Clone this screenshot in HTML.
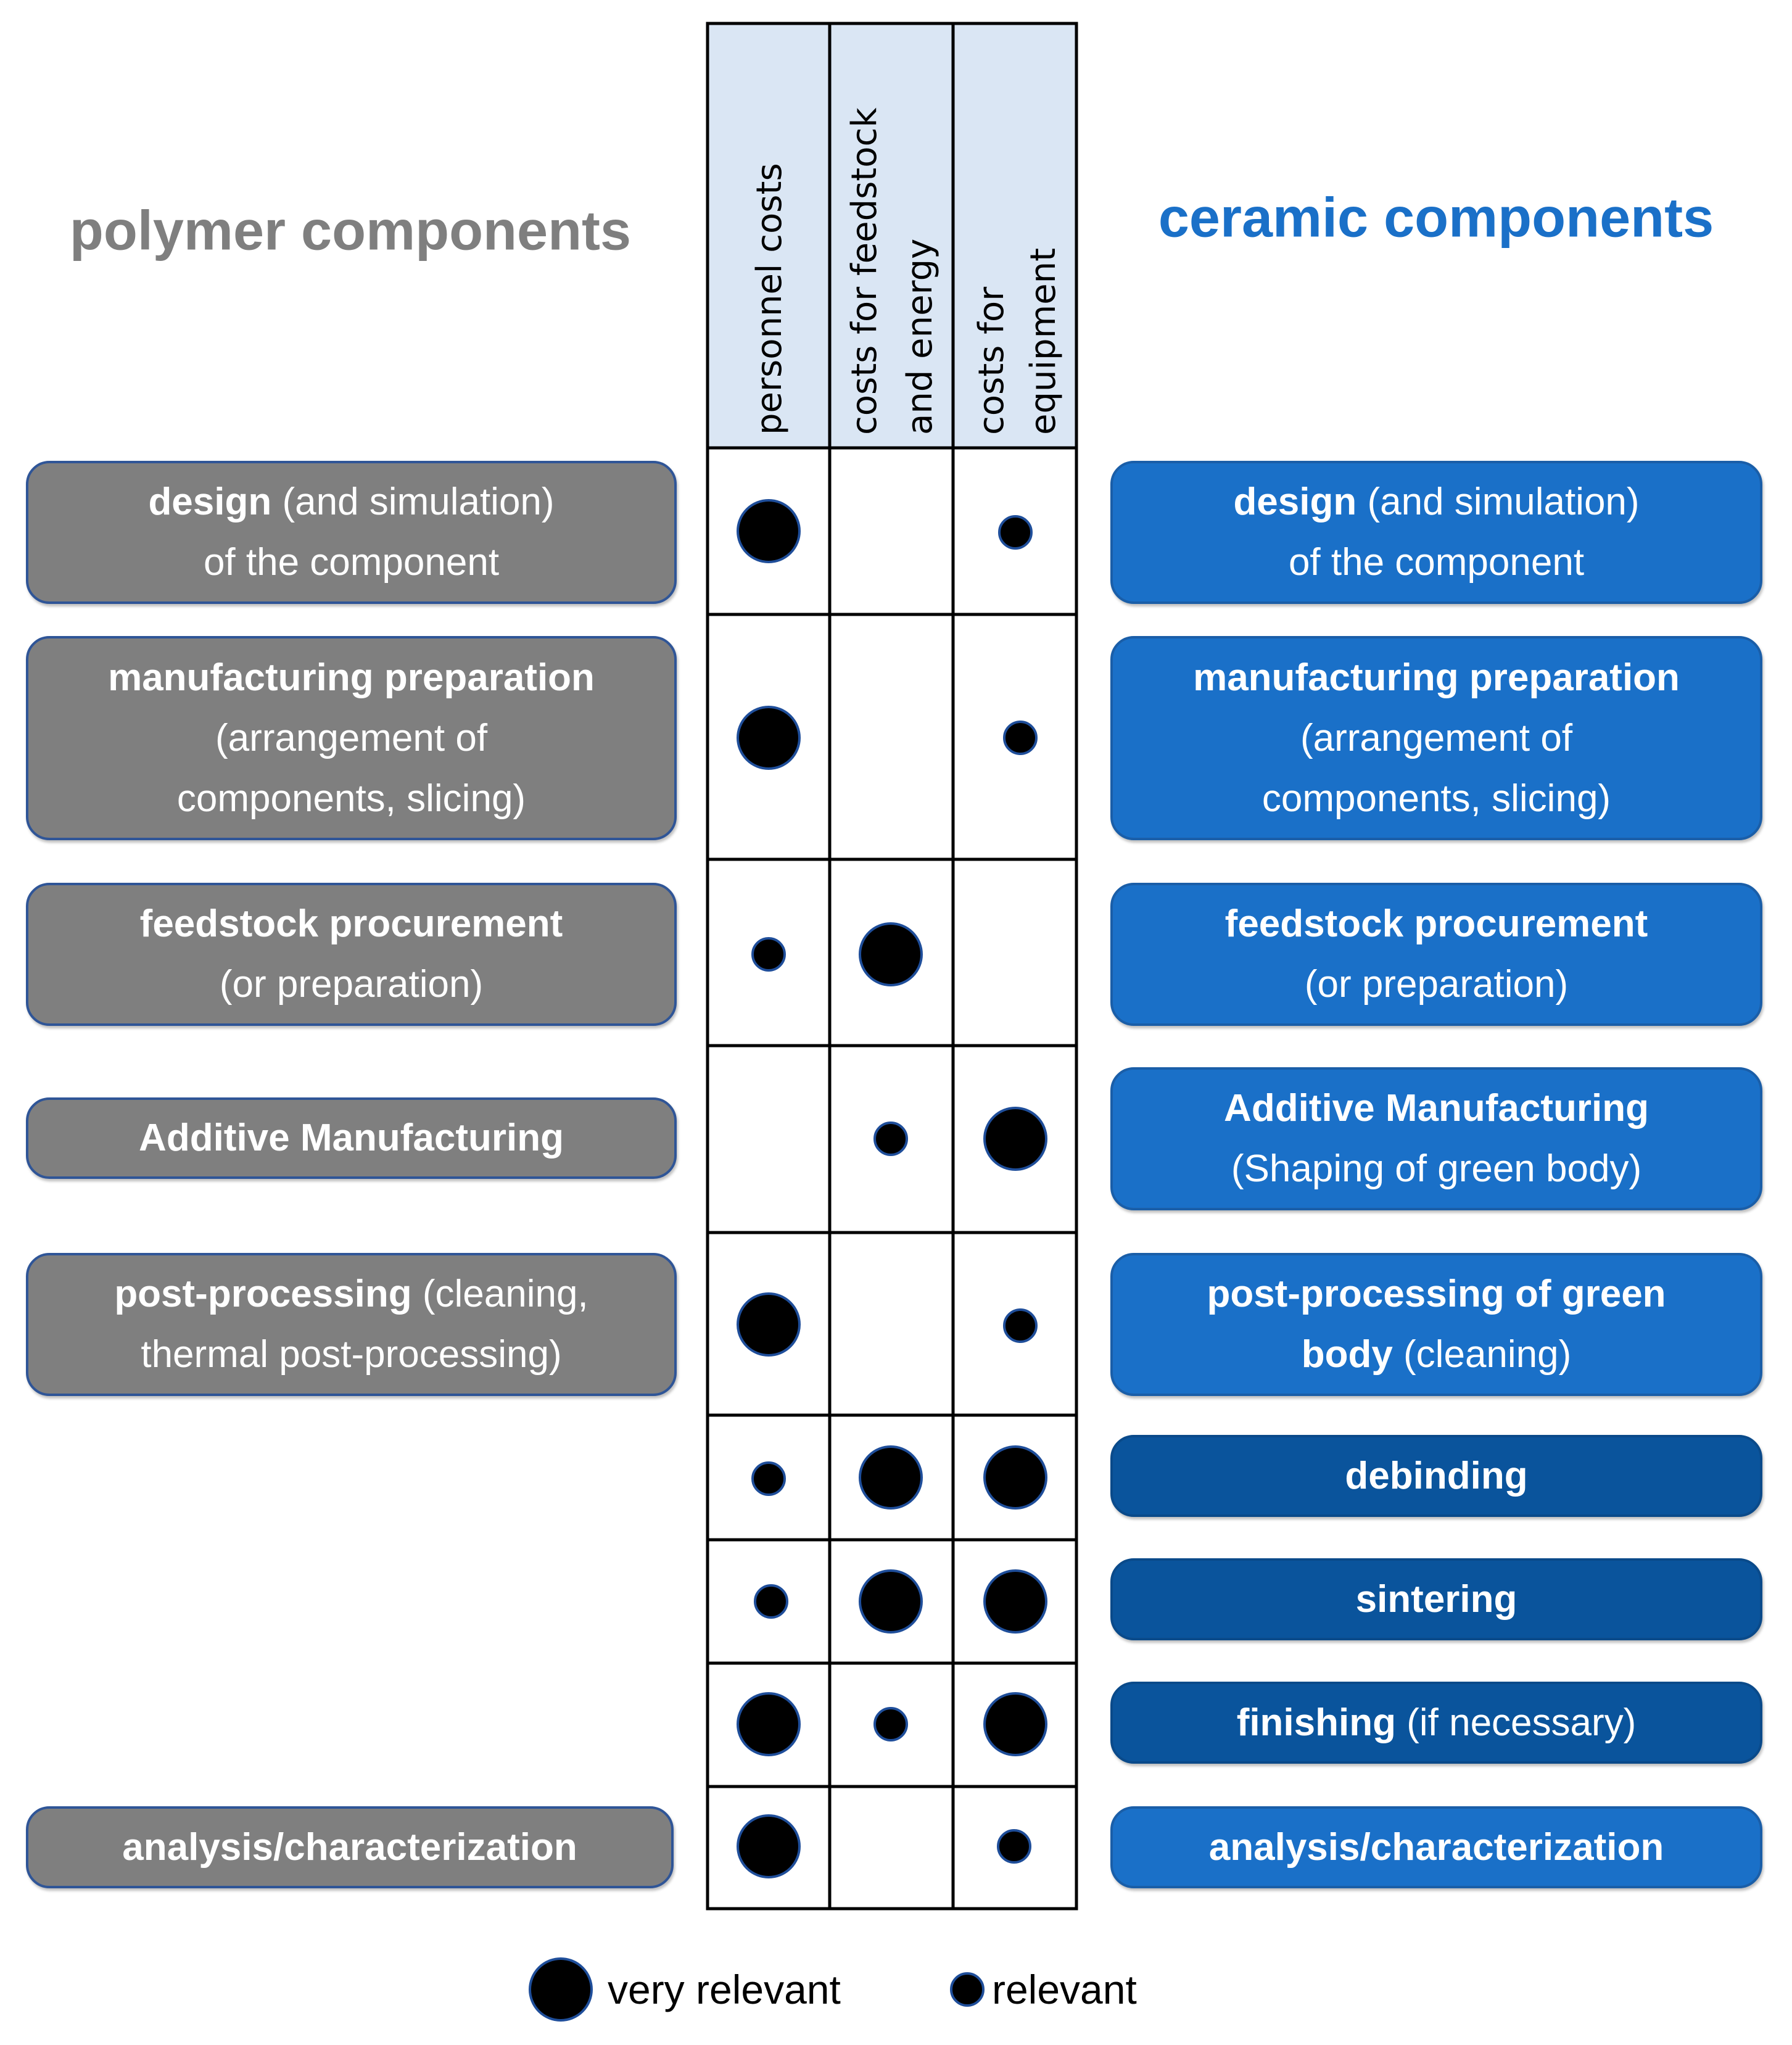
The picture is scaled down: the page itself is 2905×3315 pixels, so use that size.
<!DOCTYPE html>
<html><head><meta charset="utf-8"><style>
body{margin:0;width:2905px;height:3315px;background:#fff;position:relative;overflow:hidden;font-family:"Liberation Sans",sans-serif}
.b{position:absolute;box-sizing:border-box;border:4px solid #2f5597;border-radius:38px;color:#fff;display:flex;align-items:center;justify-content:center;text-align:center;font-size:62px;line-height:98px;box-shadow:2px 4px 4px rgba(0,0,0,0.25)}
.g{background:#7f7f7f;left:42px;width:1055px}
.c{background:#1a70c8;left:1800px;width:1057px;border-color:#1a5ea8}
.d{background:#0a549c;left:1800px;width:1057px;border-color:#0a4a8a}
.t{position:absolute;font-weight:bold;font-size:90px;transform:translate(-50%,-50%);white-space:nowrap}
</style></head><body>
<div class="t" style="left:568px;top:375px;color:#7f7f7f">polymer components</div>
<div class="t" style="left:2328px;top:354px;color:#1a70c8">ceramic components</div>

<div class="b g" style="top:747px;height:232px"><div><b>design</b> (and simulation)<br>of the component</div></div>
<div class="b g" style="top:1031px;height:331px"><div><b>manufacturing preparation</b><br>(arrangement of<br>components, slicing)</div></div>
<div class="b g" style="top:1431px;height:232px"><div><b>feedstock procurement</b><br>(or preparation)</div></div>
<div class="b g" style="top:1779px;height:132px"><div><b>Additive Manufacturing</b></div></div>
<div class="b g" style="top:2031px;height:232px"><div><b>post-processing</b> (cleaning,<br>thermal post-processing)</div></div>
<div class="b g" style="top:2928px;height:133px;width:1050px"><div><b>analysis/characterization</b></div></div>

<div class="b c" style="top:747px;height:232px"><div><b>design</b> (and simulation)<br>of the component</div></div>
<div class="b c" style="top:1031px;height:331px"><div><b>manufacturing preparation</b><br>(arrangement of<br>components, slicing)</div></div>
<div class="b c" style="top:1431px;height:232px"><div><b>feedstock procurement</b><br>(or preparation)</div></div>
<div class="b c" style="top:1730px;height:232px"><div><b>Additive Manufacturing</b><br>(Shaping of green body)</div></div>
<div class="b c" style="top:2031px;height:232px"><div><b>post-processing of green<br>body</b> (cleaning)</div></div>
<div class="b d" style="top:2326px;height:133px"><div><b>debinding</b></div></div>
<div class="b d" style="top:2526px;height:133px"><div><b>sintering</b></div></div>
<div class="b d" style="top:2726px;height:133px"><div><b>finishing</b> (if necessary)</div></div>
<div class="b c" style="top:2928px;height:133px"><div><b>analysis/characterization</b></div></div>

<svg width="2905" height="3315" style="position:absolute;left:0;top:0">
<rect x="1147" y="38" width="598" height="688" fill="#dae6f4"/>
<g stroke="#000" stroke-width="5" fill="none">
<rect x="1147" y="38" width="598" height="3056"/>
<line x1="1345" y1="38" x2="1345" y2="3094"/><line x1="1545" y1="38" x2="1545" y2="3094"/>
<line x1="1147" y1="726" x2="1745" y2="726"/><line x1="1147" y1="996" x2="1745" y2="996"/>
<line x1="1147" y1="1393" x2="1745" y2="1393"/><line x1="1147" y1="1695" x2="1745" y2="1695"/>
<line x1="1147" y1="1998" x2="1745" y2="1998"/><line x1="1147" y1="2294" x2="1745" y2="2294"/>
<line x1="1147" y1="2496" x2="1745" y2="2496"/><line x1="1147" y1="2696" x2="1745" y2="2696"/>
<line x1="1147" y1="2896" x2="1745" y2="2896"/>
</g>
<g font-family="DejaVu Sans, sans-serif" font-size="56" fill="#000">
<text transform="translate(1266,705) rotate(-90)">personnel costs</text>
<text transform="translate(1420,705) rotate(-90)">costs for feedstock</text>
<text transform="translate(1510,705) rotate(-90)">and energy</text>
<text transform="translate(1626,705) rotate(-90)">costs for</text>
<text transform="translate(1710,705) rotate(-90)">equipment</text>
</g>
<g fill="#000" stroke="#1f4e9a" stroke-width="4">
<circle cx="1246" cy="861" r="50"/><circle cx="1646" cy="863" r="26"/>
<circle cx="1246" cy="1196" r="50"/><circle cx="1654" cy="1196" r="26"/>
<circle cx="1246" cy="1547" r="26"/><circle cx="1444" cy="1547" r="50"/>
<circle cx="1444" cy="1846" r="26"/><circle cx="1646" cy="1846" r="50"/>
<circle cx="1246" cy="2147" r="50"/><circle cx="1654" cy="2149" r="26"/>
<circle cx="1246" cy="2397" r="26"/><circle cx="1444" cy="2395" r="50"/><circle cx="1646" cy="2395" r="50"/>
<circle cx="1250" cy="2596" r="26"/><circle cx="1444" cy="2596" r="50"/><circle cx="1646" cy="2596" r="50"/>
<circle cx="1246" cy="2795" r="50"/><circle cx="1444" cy="2795" r="26"/><circle cx="1646" cy="2795" r="50"/>
<circle cx="1246" cy="2993" r="50"/><circle cx="1644" cy="2993" r="26"/>
<circle cx="909" cy="3225" r="50"/><circle cx="1568" cy="3225" r="26"/>
</g>
<g font-family="Liberation Sans, sans-serif" font-size="66" fill="#000">
<text x="985" y="3248">very relevant</text>
<text x="1608" y="3248">relevant</text>
</g>
</svg>
</body></html>
